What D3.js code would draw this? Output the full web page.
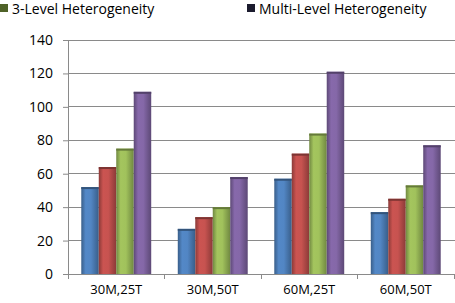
<!DOCTYPE html>
<html><head><meta charset="utf-8">
<script src="https://cdn.jsdelivr.net/npm/d3@7"></script>
<style>body{margin:0;background:#fff}svg{display:block;font-family:"Open Sans", sans-serif}</style>
</head><body><div id="c"></div>
<script>
const categories = ["30M,25T","30M,50T","60M,25T","60M,50T"];
const seriesNames = ["Series A","Series B","3-Level Heterogeneity","Multi-Level Heterogeneity"];
const seriesA = [52,27,57,37];
const seriesB = [64,34,72,45];
const series3Level = [75,40,84,53];
const seriesMulti = [109,58,121,77];
const yTicks = [0,20,40,60,80,100,120,140];
const seriesValues = [seriesA, seriesB, series3Level, seriesMulti];
const colors = ["#4F81BD","#C0504D","#9BBB59","#8064A2"];
const FONT = "Open Sans";

const W=455,H=303;
const svg=d3.select("#c").append("svg").attr("width",W).attr("height",H);
const x=d3.scaleBand().domain(categories).range([68,454]).padding(0);
const y=d3.scaleLinear().domain([0,140]).range([274,40]);
const sub=d3.scaleBand().domain(d3.range(4)).range([0,x.bandwidth()]).paddingOuter(0.76).paddingInner(0);

const defs=svg.append("defs");
colors.forEach((c,i)=>{
  const g=defs.append("linearGradient").attr("id","g"+i).attr("x1","0").attr("x2","1").attr("y1","0").attr("y2","0");
  const base=d3.color(c);
  g.append("stop").attr("offset","0%").attr("stop-color",base.darker(0.9));
  g.append("stop").attr("offset","25%").attr("stop-color",base.brighter(0.15));
  g.append("stop").attr("offset","55%").attr("stop-color",base.brighter(0.1));
  g.append("stop").attr("offset","100%").attr("stop-color",base.darker(0.9));
});

// gridlines
svg.append("g").selectAll("line").data(yTicks.filter(d=>d>0)).join("line")
  .attr("x1",68).attr("x2",455).attr("y1",d=>y(d)).attr("y2",d=>y(d))
  .attr("stroke","#8a8a8a").attr("stroke-width",1).attr("shape-rendering","crispEdges");

// y axis
const ya=svg.append("g").attr("transform","translate(68,0)").call(d3.axisLeft(y).tickValues(yTicks).tickSize(5).tickPadding(10));
ya.select(".domain").attr("stroke","#8a8a8a");
ya.selectAll(".tick line").attr("stroke","#8a8a8a");
ya.selectAll("text").attr("font-size",14).attr("fill","#000").attr("font-family",FONT);

// bars
seriesValues.forEach((vals,si)=>{
  svg.append("g").selectAll("rect").data(vals).join("rect")
    .attr("x",(d,i)=>x(categories[i])+sub(si))
    .attr("width",sub.bandwidth())
    .attr("y",d=>y(d)).attr("height",d=>y(0)-y(d))
    .attr("fill","url(#g"+si+")");
  svg.append("g").selectAll("rect").data(vals).join("rect")
    .attr("x",(d,i)=>x(categories[i])+sub(si))
    .attr("width",sub.bandwidth())
    .attr("y",d=>y(d)).attr("height",2)
    .attr("fill",d3.color(colors[si]).darker(1.2));
});

// x axis
const xa=svg.append("g").attr("transform","translate(0,274)").call(d3.axisBottom(x).tickSize(0).tickPadding(11));
xa.select(".domain").attr("stroke","#8a8a8a");
xa.selectAll("text").attr("font-size",13).attr("fill","#000").attr("font-family",FONT);
svg.append("g").selectAll("line").data(categories.concat(["end"])).join("line")
  .attr("x1",(d,i)=>i<4?x(d):x.range()[1]).attr("x2",(d,i)=>i<4?x(d):x.range()[1])
  .attr("y1",274).attr("y2",279).attr("stroke","#8a8a8a").attr("shape-rendering","crispEdges");

// legend (cropped at top)
const legendItems=[{name:seriesNames[2],color:"#4F6228",x:0},{name:seriesNames[3],color:"#1b1b2e",x:247}];
const lg=svg.append("g").selectAll("g").data(legendItems).join("g").attr("transform",d=>`translate(${d.x},0)`);
lg.append("rect").attr("x",0).attr("y",4).attr("width",8).attr("height",8).attr("fill",d=>d.color);
lg.append("text").attr("x",12).attr("y",13.5).attr("font-size",14).attr("font-family",FONT).attr("fill","#000").text(d=>d.name);
</script></body></html>
